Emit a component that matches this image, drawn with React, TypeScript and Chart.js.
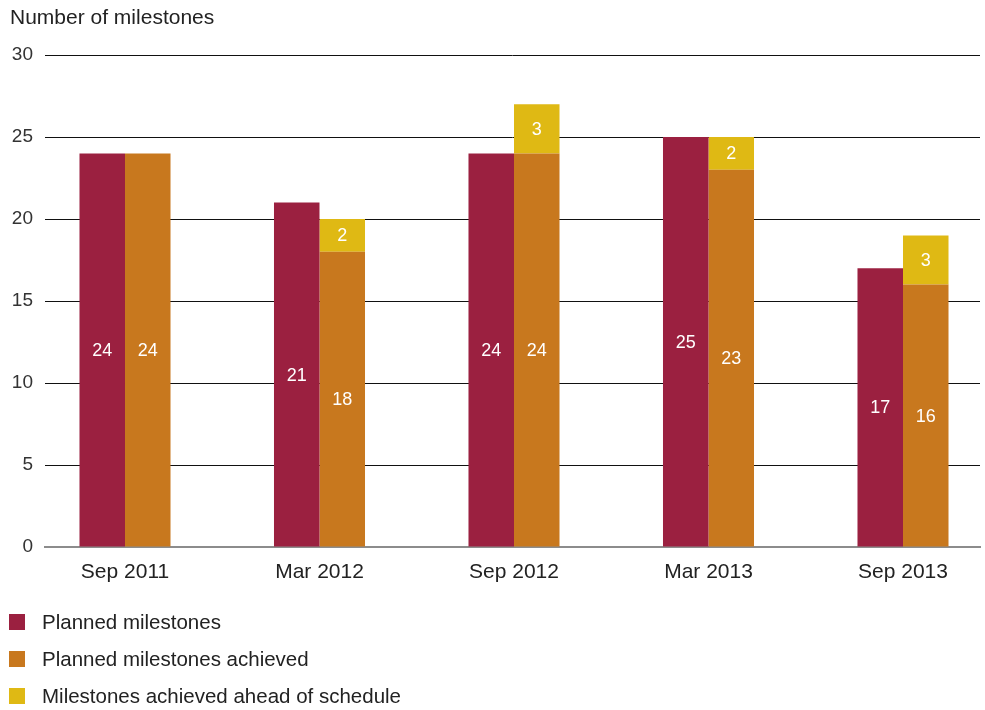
import React, { useEffect, useRef } from "react";
import { Chart, registerables } from "chart.js";

Chart.register(...registerables);

const CATEGORIES = ["Sep 2011", "Mar 2012", "Sep 2012", "Mar 2013", "Sep 2013"];
const PLANNED = [24, 21, 24, 25, 17];
const ACHIEVED = [24, 18, 24, 23, 16];
const AHEAD: (number | null)[] = [null, 2, 3, 2, 3];
const SERIES_LABELS = [
  "Planned milestones",
  "Planned milestones achieved",
  "Milestones achieved ahead of schedule",
];
const COLORS = ["#9b2040", "#c8781e", "#dfb914"];
const Y_TITLE = "Number of milestones";

const FONT = '"Liberation Sans", Arial, sans-serif';
const TEXT = "#222222";

const titlePlugin = {
  id: "customTitle",
  afterDraw(chart: any) {
    const ctx = chart.ctx;
    ctx.save();
    ctx.font = `21px ${FONT}`;
    ctx.fillStyle = TEXT;
    ctx.textAlign = "left";
    ctx.textBaseline = "alphabetic";
    ctx.fillText(Y_TITLE, 10, 24);
    ctx.restore();
  },
};

const legendPlugin = {
  id: "customLegend",
  afterDraw(chart: any) {
    const ctx = chart.ctx;
    ctx.save();
    chart.data.datasets.forEach((ds: any, i: number) => {
      const cy = 622 + 37 * i;
      ctx.fillStyle = ds.backgroundColor;
      ctx.fillRect(9, cy - 8, 16, 16);
      ctx.font = `20.5px ${FONT}`;
      ctx.fillStyle = TEXT;
      ctx.textAlign = "left";
      ctx.textBaseline = "middle";
      ctx.fillText(ds.label, 42, cy + 1);
    });
    ctx.restore();
  },
};

const labelPlugin = {
  id: "barLabels",
  afterDatasetsDraw(chart: any) {
    const ctx = chart.ctx;
    ctx.save();
    ctx.font = `18px ${FONT}`;
    ctx.fillStyle = "#ffffff";
    ctx.textAlign = "center";
    ctx.textBaseline = "middle";
    chart.data.datasets.forEach((ds: any, di: number) => {
      const meta = chart.getDatasetMeta(di);
      meta.data.forEach((el: any, i: number) => {
        const v = ds.data[i]?.y;
        if (v === null || v === undefined || v === 0) return;
        const cy = (el.y + el.base) / 2;
        ctx.fillText(String(v), el.x, cy + 1);
      });
    });
    ctx.restore();
  },
};

export default function App() {
  const ref = useRef<HTMLCanvasElement | null>(null);

  useEffect(() => {
    if (!ref.current) return;
    const toPts = (arr: (number | null)[]) => arr.map((y, i) => ({ x: i, y }));
    const chart = new Chart(ref.current, {
      type: "bar",
      data: {
        datasets: [
          { label: SERIES_LABELS[0], data: toPts(PLANNED), backgroundColor: COLORS[0], stack: "planned" },
          { label: SERIES_LABELS[1], data: toPts(ACHIEVED), backgroundColor: COLORS[1], stack: "achieved" },
          { label: SERIES_LABELS[2], data: toPts(AHEAD), backgroundColor: COLORS[2], stack: "achieved" },
        ] as any,
      },
      options: {
        animation: false,
        responsive: false,
        devicePixelRatio: 1,
        layout: { padding: { top: 55, left: 0, right: 5, bottom: 0 } },
        datasets: { bar: { categoryPercentage: 0.468, barPercentage: 1, borderWidth: 0 } } as any,
        plugins: { legend: { display: false }, title: { display: false }, tooltip: { enabled: false } },
        scales: {
          x: {
            type: "linear",
            min: -0.4113,
            max: 4.3959,
            offset: false,
            afterBuildTicks: (scale: any) => {
              scale.ticks = CATEGORIES.map((_, i) => ({ value: i }));
            },
            afterFit: (scale: any) => {
              scale.height = 163;
            },
            grid: { color: "rgba(0,0,0,0)", drawTicks: false },
            border: { display: true, color: "#8c8c8c", width: 2 },
            ticks: {
              autoSkip: false,
              maxRotation: 0,
              padding: 13,
              color: TEXT,
              font: { family: FONT, size: 21 },
              callback: (v: any) => CATEGORIES[v] ?? "",
            },
          },
          y: {
            stacked: true,
            min: 0,
            max: 30,
            afterFit: (scale: any) => {
              scale.width = 45;
            },
            grid: {
              drawTicks: false,
              color: (c: any) => (c.tick && c.tick.value === 0 ? "rgba(0,0,0,0)" : "#111111"),
              lineWidth: 1,
            },
            border: { display: false },
            ticks: {
              stepSize: 5,
              padding: 12,
              color: "#333333",
              font: { family: FONT, size: 19 },
            },
          },
        } as any,
      },
      plugins: [labelPlugin, titlePlugin, legendPlugin],
    });
    return () => chart.destroy();
  }, []);

  return (
    <div style={{ position: "fixed", left: 0, top: 0, width: 985, height: 710, background: "#fff" }}>
      <canvas ref={ref} width={985} height={710} style={{ display: "block" }} />
    </div>
  );
}
